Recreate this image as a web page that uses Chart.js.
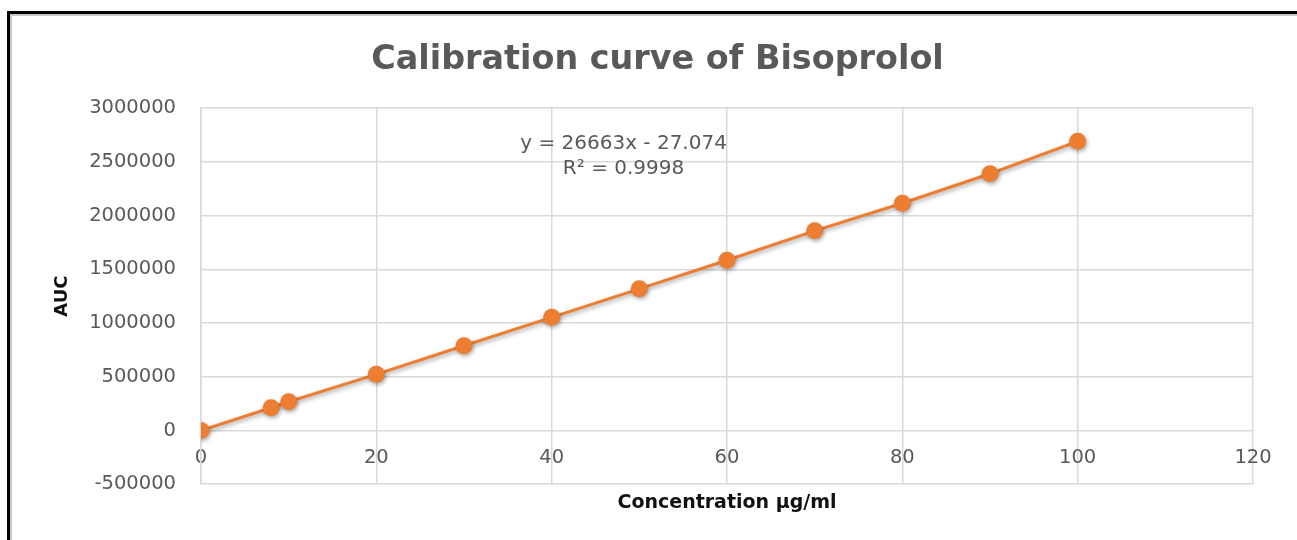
<!DOCTYPE html>
<html>
<head>
<meta charset="utf-8">
<script src="https://cdn.jsdelivr.net/npm/chart.js@4.4.1/dist/chart.umd.min.js"></script>
<style>
  html, body { margin: 0; padding: 0; background: #fff; }
  #wrap { width: 1297px; height: 540px; position: relative; }
</style>
</head>
<body>
<div id="wrap"><canvas id="calChart"></canvas></div>
<script>
// concentration (µg/ml) vs peak area
const concentrations = [0, 8, 10, 20, 30, 40, 50, 60, 70, 80, 90, 100];
const aucValues = [0, 211000, 267000, 522000, 788000, 1053000, 1318000, 1584000, 1858000, 2114000, 2389000, 2691000];

const xTicks = [0, 20, 40, 60, 80, 100, 120];
const yTicks = [-500000, 0, 500000, 1000000, 1500000, 2000000, 2500000, 3000000];

// trendline label, anchored in data space
const trendLines = ['y = 26663x - 27.074', 'R\u00B2 = 0.9998'];
const trendAnchor = { x: 48.2, y: 2665000 };

const points = concentrations.map((c, i) => ({ x: c, y: aucValues[i] }));

const grey = '#595959';
const gridColor = '#d9d9d9';

const pointShadow = {
  id: 'pointShadow',
  beforeDatasetsDraw(chart) {
    const ctx = chart.ctx;
    ctx.save();
    ctx.shadowColor = 'rgba(0,0,0,0.35)';
    ctx.shadowBlur = 4;
    ctx.shadowOffsetX = 1;
    ctx.shadowOffsetY = 2;
  },
  afterDatasetsDraw(chart) {
    chart.ctx.restore();
  }
};

const trendText = {
  id: 'trendText',
  afterDraw(chart) {
    const ctx = chart.ctx;
    const x = chart.scales.x.getPixelForValue(trendAnchor.x);
    const y = chart.scales.y.getPixelForValue(trendAnchor.y);
    ctx.save();
    ctx.font = '20px "DejaVu Sans"';
    ctx.fillStyle = grey;
    ctx.textAlign = 'center';
    ctx.textBaseline = 'middle';
    trendLines.forEach((t, i) => ctx.fillText(t, x, y + i * 25));
    ctx.restore();
  }
};

const frame = {
  id: 'frame',
  afterDraw(chart) {
    const ctx = chart.ctx;
    ctx.save();
    ctx.strokeStyle = '#c8c8c8';
    ctx.lineWidth = 2;
    ctx.beginPath();
    ctx.moveTo(11, 540); ctx.lineTo(11, 15); ctx.lineTo(1297, 15);
    ctx.stroke();
    ctx.strokeStyle = '#000';
    ctx.lineWidth = 3;
    ctx.beginPath();
    ctx.moveTo(8.5, 540); ctx.lineTo(8.5, 12.5); ctx.lineTo(1297, 12.5);
    ctx.stroke();
    ctx.restore();
  }
};

new Chart(document.getElementById('calChart'), {
  type: 'scatter',
  data: {
    datasets: [{
      label: 'AUC',
      data: points,
      showLine: true,
      borderColor: '#ed7d31',
      backgroundColor: '#ed7d31',
      borderWidth: 3,
      pointRadius: 8.5,
      pointHoverRadius: 8.5,
      pointBorderWidth: 0
    }]
  },
  options: {
    responsive: true,
    maintainAspectRatio: false,
    animation: false,
    layout: { padding: { left: 62, right: 44, top: 0, bottom: 22 } },
    plugins: {
      legend: { display: false },
      tooltip: { enabled: false },
      title: {
        display: true,
        text: 'Calibration curve of Bisoprolol',
        color: grey,
        font: { family: 'DejaVu Sans', size: 33.4, weight: 'bold' },
        padding: { top: 40, bottom: 28 }
      }
    },
    scales: {
      x: {
        type: 'linear',
        position: { y: 0 },
        min: 0,
        max: 120,
        afterBuildTicks: s => { s.ticks = xTicks.map(v => ({ value: v })); },
        grid: { color: gridColor, lineWidth: 1.5, drawTicks: false },
        border: { display: false },
        ticks: {
          color: grey,
          padding: 16,
          font: { family: 'DejaVu Sans', size: 19.5 },
          callback: v => String(v)
        }
      },
      xt: {
        type: 'linear',
        axis: 'x',
        position: 'bottom',
        min: 0,
        max: 120,
        grid: { display: false, drawTicks: false },
        border: { display: false },
        ticks: { display: false },
        title: {
          display: true,
          text: 'Concentration \u00B5g/ml',
          color: '#111',
          font: { family: 'DejaVu Sans', size: 19, weight: 'bold' },
          padding: { top: 7, bottom: 4 }
        }
      },
      y: {
        type: 'linear',
        min: -500000,
        max: 3000000,
        afterBuildTicks: s => { s.ticks = yTicks.map(v => ({ value: v })); },
        afterFit: s => { s.width = 139; },
        grid: { color: gridColor, lineWidth: 1.5, drawTicks: false },
        border: { display: true, color: gridColor, width: 1.5 },
        ticks: {
          color: grey,
          padding: 25,
          font: { family: 'DejaVu Sans', size: 19.5 },
          callback: v => String(v)
        },
        title: {
          display: true,
          text: 'AUC',
          color: '#111',
          font: { family: 'DejaVu Sans', size: 18, weight: 'bold' },
          padding: { top: -10, bottom: 0 }
        }
      }
    }
  },
  plugins: [pointShadow, trendText, frame]
});
</script>
</body>
</html>
